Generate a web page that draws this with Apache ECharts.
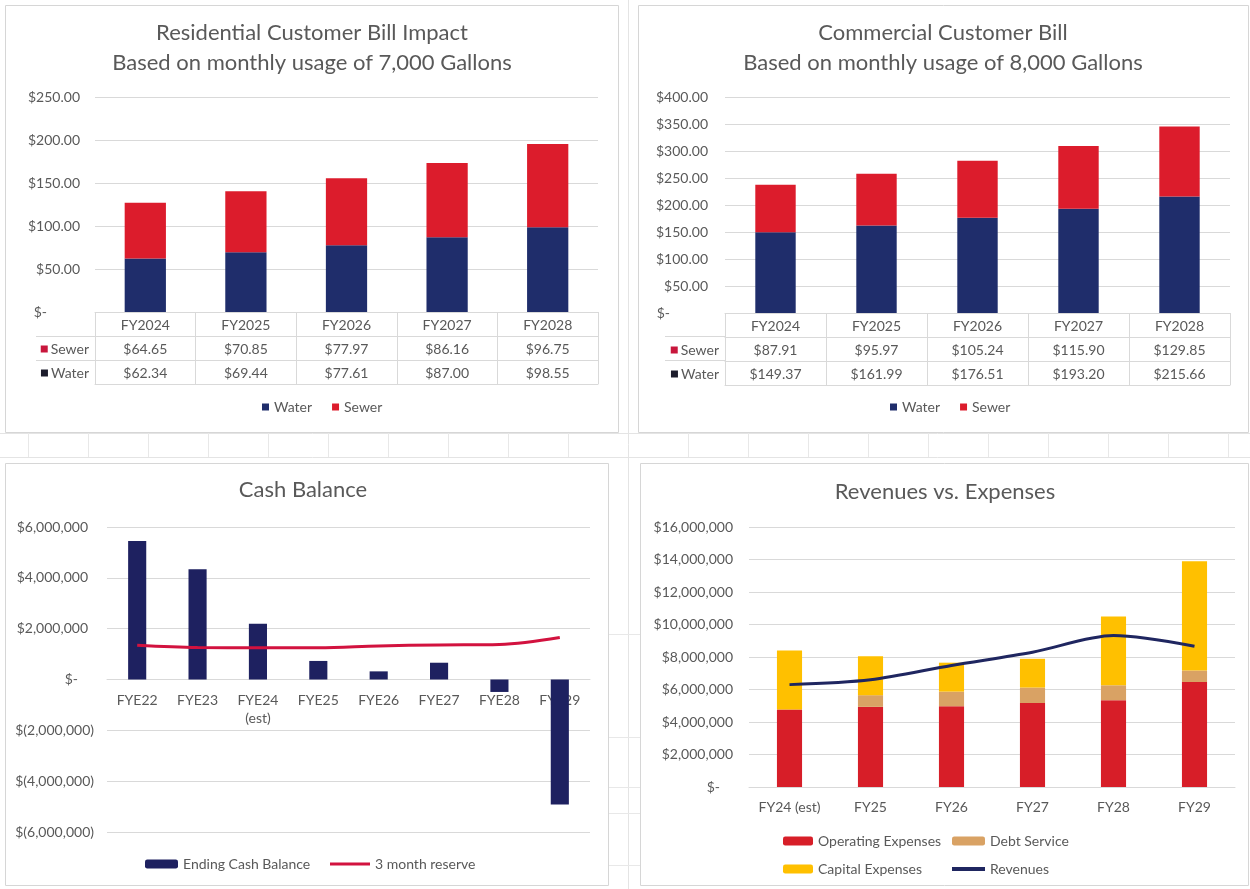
<!DOCTYPE html>
<html>
<head>
<meta charset="utf-8">
<title>Utility Rate Study Charts</title>
<script src="https://cdn.jsdelivr.net/npm/echarts@6/dist/echarts.min.js"></script>
<style>
  html, body { margin: 0; padding: 0; background: #ffffff; }
  #chart { width: 1250px; height: 889px; }
</style>
</head>
<body>
<div id="chart"></div>
<script>
// ---- Residential bill (7,000 gal / month) ----
const resCategories = ['FY2024', 'FY2025', 'FY2026', 'FY2027', 'FY2028'];
const resWater = [62.34, 69.44, 77.61, 87.00, 98.55];
const resSewer = [64.65, 70.85, 77.97, 86.16, 96.75];

// ---- Commercial bill (8,000 gal / month) ----
const comCategories = ['FY2024', 'FY2025', 'FY2026', 'FY2027', 'FY2028'];
const comWater = [149.37, 161.99, 176.51, 193.20, 215.66];
const comSewer = [87.91, 95.97, 105.24, 115.90, 129.85];

// ---- Cash balance ----
const cashCategories = ['FYE22', 'FYE23', 'FYE24\n(est)', 'FYE25', 'FYE26', 'FYE27', 'FYE28', 'FYE29'];
const endingCash = [5450000, 4340000, 2190000, 730000, 320000, 660000, -490000, -4920000];
const reserve3Month = [1350000, 1260000, 1250000, 1250000, 1320000, 1360000, 1380000, 1650000];
const cashMin = -6000000, cashMax = 6000000, cashStep = 2000000;

// ---- Revenues vs. expenses ----
const finCategories = ['FY24 (est)', 'FY25', 'FY26', 'FY27', 'FY28', 'FY29'];
const operatingExp = [4770000, 4930000, 4970000, 5170000, 5340000, 6460000];
const debtService = [0, 720000, 900000, 950000, 920000, 710000];
const capitalExp = [3630000, 2400000, 1780000, 1770000, 4240000, 6730000];
const revenues = [6300000, 6600000, 7480000, 8290000, 9320000, 8660000];

const FONT = 'Lato';
const TXT = '#595959';
const RULE = '#d9d9d9';
const NAVY = '#1f2d6b';
const RED = '#dc1c2c';
const AX = 14;

const dollars2 = v => '$' + v.toFixed(2);
const dollarsInt = v => '$' + Math.abs(v).toLocaleString('en-US');

// Table rows under a bill chart: each row is its own category axis offset below the plot.
function billAxes(grid, cats, sewer, water) {
  const base = {
    gridIndex: grid, type: 'category', position: 'bottom',
    axisLine: { show: true, onZero: false, lineStyle: { color: RULE } },
    axisTick: { show: true, interval: 0, length: 24, lineStyle: { color: RULE } },
    axisLabel: { interval: 0, margin: 6, color: TXT, fontFamily: FONT, fontSize: AX },
    splitLine: { show: false }
  };
  const rowName = (label, color) => ({
    name: '{m|}{t|' + label + '}',
    nameLocation: 'start',
    nameGap: 6,
    nameTextStyle: {
      verticalAlign: 'top', padding: [6, 0, 0, 0],
      rich: {
        m: { width: 7, height: 7, backgroundColor: color },
        t: { color: TXT, fontFamily: FONT, fontSize: AX, padding: [0, 0, 0, 3] }
      }
    }
  });
  return [
    Object.assign({}, base, { data: cats, offset: 0, axisTick: Object.assign({}, base.axisTick, { length: 25 }) }),
    Object.assign({}, base, rowName('Sewer', '#c8163c'), {
      data: cats, offset: 24,
      axisLabel: Object.assign({}, base.axisLabel, { formatter: (v, i) => dollars2(sewer[i]) })
    }),
    Object.assign({}, base, rowName('Water', '#1c1c2c'), {
      data: cats, offset: 48,
      axisLabel: Object.assign({}, base.axisLabel, { formatter: (v, i) => dollars2(water[i]) })
    }),
    Object.assign({}, base, {
      data: cats, offset: 72, axisTick: { show: false }, axisLabel: { show: false }
    })
  ];
}

function billYAxis(grid, max, zeroPad, margin) {
  return {
    gridIndex: grid, type: 'value', min: 0, max: max, interval: 50,
    axisLine: { show: false }, axisTick: { show: false },
    splitLine: { lineStyle: { color: RULE } },
    axisLabel: {
      margin: margin, color: TXT, fontFamily: FONT, fontSize: AX,
      formatter: v => v === 0 ? '{z|$-}' : dollars2(v),
      rich: { z: { color: TXT, fontFamily: FONT, fontSize: AX, padding: [0, zeroPad, 0, 0] } }
    }
  };
}

const titleStyle = { color: TXT, fontFamily: FONT, fontSize: 22, fontWeight: 'normal', lineHeight: 30 };
const legendText = { color: TXT, fontFamily: FONT, fontSize: 14 };
const oneLegend = (name, left, top, w, h, extra) => Object.assign({
  data: [name], left: left, top: top, padding: 0, itemWidth: w, itemHeight: h, textStyle: legendText
}, extra || {});

// Panel frames and the sheet cells showing between them
const graphics = [];
const panels = [[5, 5, 613, 427], [638, 5, 610, 427], [5, 463, 603, 422], [640, 463, 608, 422]];
panels.forEach(p => graphics.push({
  type: 'rect', shape: { x: p[0] + 0.5, y: p[1] + 0.5, width: p[2], height: p[3] },
  style: { fill: 'none', stroke: '#d6d6d6', lineWidth: 1 }, z: -10
}));
[433, 457].forEach(y => graphics.push({
  type: 'line', shape: { x1: 0, y1: y + 0.5, x2: 1250, y2: y + 0.5 },
  style: { stroke: '#e4e4e4', lineWidth: 1 }, z: -11
}));
graphics.push({ type: 'line', shape: { x1: 628.5, y1: 0, x2: 628.5, y2: 889 }, style: { stroke: '#e4e4e4' }, z: -11 });
for (let x = 28; x < 1250; x += 60) {
  if (x === 628) continue;
  graphics.push({ type: 'line', shape: { x1: x + 0.5, y1: 433, x2: x + 0.5, y2: 457 }, style: { stroke: '#e8e8e8' }, z: -11 });
}
[634, 737, 787, 813, 865].forEach(y => graphics.push({
  type: 'line', shape: { x1: 608, y1: y + 0.5, x2: 640, y2: y + 0.5 }, style: { stroke: '#e8e8e8' }, z: -11
}));
// row-header borders of the two data tables
[[36, 95], [665, 725]].forEach(r => [336, 360].forEach(y => graphics.push({
  type: 'line', shape: { x1: r[0], y1: y + 0.5, x2: r[1], y2: y + 0.5 }, style: { stroke: RULE }, z: 1
})));

const cashGridHeight = 305;
// category axis sits on the zero line of the cash chart
const cashZeroOffset = -cashGridHeight * cashMax / (cashMax - cashMin);

const option = {
  animation: false,
  backgroundColor: '#ffffff',
  textStyle: { fontFamily: FONT },
  title: [
    { text: 'Residential Customer Bill Impact\nBased on monthly usage of 7,000 Gallons', left: 312, top: 18, padding: 0, textAlign: 'center', textStyle: titleStyle },
    { text: 'Commercial Customer Bill\nBased on monthly usage of 8,000 Gallons', left: 943, top: 18, padding: 0, textAlign: 'center', textStyle: titleStyle },
    { text: 'Cash Balance', left: 303, top: 475, padding: 0, textAlign: 'center', textStyle: titleStyle },
    { text: 'Revenues vs. Expenses', left: 945, top: 477, padding: 0, textAlign: 'center', textStyle: titleStyle }
  ],
  grid: [
    { left: 95, top: 97, width: 503, height: 215 },
    { left: 725, top: 97, width: 505, height: 216 },
    { left: 107, top: 527, width: 483, height: cashGridHeight },
    { left: 749, top: 527, width: 486, height: 260 }
  ],
  legend: [
    { data: ['Water', 'Sewer'], left: 262, top: 400, padding: 0, itemWidth: 7, itemHeight: 7, itemGap: 20, icon: 'rect', textStyle: legendText },
    { data: ['Water', 'Sewer'], left: 890, top: 400, padding: 0, itemWidth: 7, itemHeight: 7, itemGap: 20, icon: 'rect', textStyle: legendText },
    oneLegend('Ending Cash Balance', 145, 857, 33, 9),
    oneLegend('3 month reserve', 330, 857, 40, 3, { icon: 'rect' }),
    oneLegend('Operating Expenses', 783, 834, 30, 9),
    oneLegend('Debt Service', 952, 834, 33, 9),
    oneLegend('Capital Expenses', 783, 862, 30, 9),
    oneLegend('Revenues', 952, 862, 33, 4, { icon: 'rect' })
  ],
  xAxis: [].concat(
    billAxes(0, resCategories, resSewer, resWater),
    billAxes(1, comCategories, comSewer, comWater),
    [{
      gridIndex: 2, type: 'category', data: cashCategories, position: 'bottom', offset: cashZeroOffset,
      axisLine: { onZero: false, lineStyle: { color: RULE } }, axisTick: { show: false },
      axisLabel: { interval: 0, margin: 12, color: TXT, fontFamily: FONT, fontSize: AX, lineHeight: 18 }
    }, {
      gridIndex: 3, type: 'category', data: finCategories,
      axisLine: { lineStyle: { color: RULE } }, axisTick: { show: false },
      axisLabel: { interval: 0, margin: 13, color: TXT, fontFamily: FONT, fontSize: AX }
    }]
  ),
  yAxis: [
    billYAxis(0, 250, 33, 15),
    billYAxis(1, 400, 38, 17),
    {
      gridIndex: 2, type: 'value', min: cashMin, max: cashMax, interval: cashStep,
      axisLine: { show: false }, axisTick: { show: false },
      splitLine: { lineStyle: { color: RULE } },
      axisLabel: {
        margin: 13, color: TXT, fontFamily: FONT, fontSize: AX,
        formatter: v => v === 0 ? '{z|$-}' : (v < 0 ? '$(' + Math.abs(v).toLocaleString('en-US') + ')' : '{p|' + dollarsInt(v) + '}'),
        rich: {
          z: { color: TXT, fontFamily: FONT, fontSize: AX, padding: [0, 16, 0, 0] },
          p: { color: TXT, fontFamily: FONT, fontSize: AX, padding: [0, 6, 0, 0] }
        }
      }
    },
    {
      gridIndex: 3, type: 'value', min: 0, max: 16000000, interval: 2000000,
      axisLine: { show: false }, axisTick: { show: false },
      splitLine: { lineStyle: { color: RULE } },
      axisLabel: {
        margin: 16, color: TXT, fontFamily: FONT, fontSize: AX,
        formatter: v => v === 0 ? '{z|$-}' : dollarsInt(v),
        rich: { z: { color: TXT, fontFamily: FONT, fontSize: AX, padding: [0, 13, 0, 0] } }
      }
    }
  ],
  series: [
    { name: 'Water', type: 'bar', stack: 'res', xAxisIndex: 0, yAxisIndex: 0, data: resWater, barWidth: '41%', itemStyle: { color: NAVY } },
    { name: 'Sewer', type: 'bar', stack: 'res', xAxisIndex: 0, yAxisIndex: 0, data: resSewer, barWidth: '41%', itemStyle: { color: RED } },
    { name: 'Water', type: 'bar', stack: 'com', xAxisIndex: 4, yAxisIndex: 1, data: comWater, barWidth: '40%', itemStyle: { color: NAVY } },
    { name: 'Sewer', type: 'bar', stack: 'com', xAxisIndex: 4, yAxisIndex: 1, data: comSewer, barWidth: '40%', itemStyle: { color: RED } },
    { name: 'Ending Cash Balance', type: 'bar', xAxisIndex: 8, yAxisIndex: 2, data: endingCash, barWidth: '30%', itemStyle: { color: '#1e2160' } },
    { name: '3 month reserve', type: 'line', xAxisIndex: 8, yAxisIndex: 2, data: reserve3Month, smooth: 0.35, symbol: 'none', lineStyle: { color: '#d2123f', width: 3 }, itemStyle: { color: '#d2123f' }, z: 3 },
    { name: 'Operating Expenses', type: 'bar', stack: 'fin', xAxisIndex: 9, yAxisIndex: 3, data: operatingExp, barWidth: '31%', itemStyle: { color: '#d71e28' } },
    { name: 'Debt Service', type: 'bar', stack: 'fin', xAxisIndex: 9, yAxisIndex: 3, data: debtService, barWidth: '31%', itemStyle: { color: '#d9a264' } },
    { name: 'Capital Expenses', type: 'bar', stack: 'fin', xAxisIndex: 9, yAxisIndex: 3, data: capitalExp, barWidth: '31%', itemStyle: { color: '#ffc000' } },
    { name: 'Revenues', type: 'line', xAxisIndex: 9, yAxisIndex: 3, data: revenues, smooth: 0.3, symbol: 'none', lineStyle: { color: '#1f2660', width: 3 }, itemStyle: { color: '#1f2660' }, z: 3 }
  ],
  graphic: graphics
};

const chart = echarts.init(document.getElementById('chart'), null, { renderer: 'canvas' });
chart.setOption(option);
</script>
</body>
</html>
